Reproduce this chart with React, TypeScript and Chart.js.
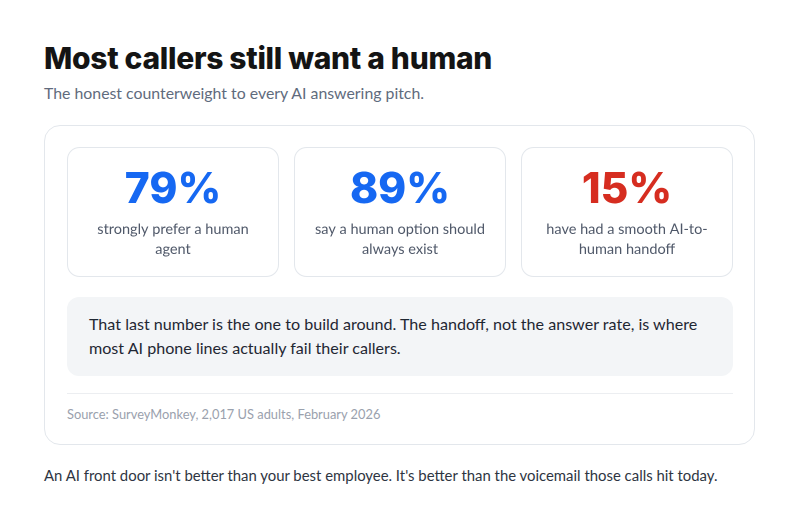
import React, { useEffect, useRef } from "react";
import { Chart, registerables } from "chart.js";

Chart.register(...registerables);

const TITLE = "Most callers still want a human";
const SUBTITLE = "The honest counterweight to every AI answering pitch.";
const STAT_KEYS = ["prefer_human", "human_option", "smooth_handoff"];
const STAT_VALUES = [79, 89, 15];
const STAT_LABELS = [
  ["strongly prefer a human", "agent"],
  ["say a human option should", "always exist"],
  ["have had a smooth AI-to-", "human handoff"],
];
const STAT_COLORS = ["#1668f2", "#1668f2", "#d62d20"];
const NOTE = [
  "That last number is the one to build around. The handoff, not the answer rate, is where",
  "most AI phone lines actually fail their callers.",
];
const SOURCE = "Source: SurveyMonkey, 2,017 US adults, February 2026";
const FOOTER =
  "An AI front door isn't better than your best employee. It's better than the voicemail those calls hit today.";

const CARD_W = 212;

function roundRect(ctx: CanvasRenderingContext2D, x: number, y: number, w: number, h: number, r: number) {
  ctx.beginPath();
  ctx.moveTo(x + r, y);
  ctx.lineTo(x + w - r, y);
  ctx.arcTo(x + w, y, x + w, y + r, r);
  ctx.lineTo(x + w, y + h - r);
  ctx.arcTo(x + w, y + h, x + w - r, y + h, r);
  ctx.lineTo(x + r, y + h);
  ctx.arcTo(x, y + h, x, y + h - r, r);
  ctx.lineTo(x, y + r);
  ctx.arcTo(x, y, x + r, y, r);
  ctx.closePath();
}

const cardsPlugin = {
  id: "statCards",
  afterDatasetsDraw(chart: any) {
    const ctx: CanvasRenderingContext2D = chart.ctx;
    const xs = chart.scales.x;
    const h = chart.height;
    const ds = chart.data.datasets[0];
    ds.data.forEach((v: number, i: number) => {
      const cx = xs.getPixelForValue(i);
      const x = cx - CARD_W / 2;
      ctx.save();
      roundRect(ctx, x + 0.5, 0.5, CARD_W - 1, h - 1, 12);
      ctx.fillStyle = "#ffffff";
      ctx.fill();
      ctx.strokeStyle = "#e3e7ec";
      ctx.lineWidth = 1;
      ctx.stroke();
      ctx.fillStyle = STAT_COLORS[i];
      ctx.textAlign = "center";
      ctx.textBaseline = "alphabetic";
      ctx.font = "800 42.5px Inter";
      ctx.fillText(v + "%", cx, 56);
      ctx.fillStyle = "#4f5869";
      ctx.font = "400 14.5px Lato";
      STAT_LABELS[i].forEach((line, j) => {
        ctx.fillText(line, cx, 87 + j * 20);
      });
      ctx.restore();
    });
  },
};

function StatCards() {
  const ref = useRef<HTMLCanvasElement>(null);
  useEffect(() => {
    if (!ref.current) return;
    const chart = new Chart(ref.current, {
      type: "line",
      data: {
        labels: STAT_KEYS,
        datasets: [{ data: STAT_VALUES, showLine: false, pointRadius: 0, pointHoverRadius: 0 }],
      },
      options: {
        animation: false,
        responsive: false,
        devicePixelRatio: 2,
        events: [],
        layout: { padding: { left: CARD_W / 2, right: CARD_W / 2, top: 0, bottom: 0 } },
        plugins: { legend: { display: false }, tooltip: { enabled: false }, title: { display: false } },
        scales: {
          x: { type: "category", offset: false, display: false },
          y: { display: false, min: 0, max: 100 },
        },
      },
      plugins: [cardsPlugin],
    });
    return () => chart.destroy();
  }, []);
  return <canvas ref={ref} width={666} height={130} style={{ width: 666, height: 130, display: "block" }} />;
}

export default function App() {
  return (
    <div
      style={{
        position: "absolute",
        left: 0,
        top: 0,
        width: 800,
        height: 528,
        background: "#ffffff",
        fontFamily: "Lato, 'Noto Sans', sans-serif",
        overflow: "hidden",
      }}
    >
      <div
        style={{
          position: "absolute",
          left: 44,
          top: 42,
          fontFamily: "Inter, sans-serif",
          fontWeight: 800,
          fontSize: 30,
          lineHeight: "32px",
          letterSpacing: "-0.3px",
          color: "#141414",
          whiteSpace: "nowrap",
        }}
      >
        {TITLE}
      </div>
      <div
        style={{
          position: "absolute",
          left: 44,
          top: 82,
          fontSize: 15.85,
          lineHeight: "22px",
          color: "#5f6b7d",
          whiteSpace: "nowrap",
        }}
      >
        {SUBTITLE}
      </div>
      <div
        style={{
          position: "absolute",
          left: 44,
          top: 125,
          width: 711,
          height: 320,
          boxSizing: "border-box",
          border: "1px solid #e3e7ec",
          borderRadius: 16,
          background: "#ffffff",
        }}
      />
      <div style={{ position: "absolute", left: 67, top: 147 }}>
        <StatCards />
      </div>
      <div
        style={{
          position: "absolute",
          left: 67,
          top: 297,
          width: 666,
          height: 79,
          boxSizing: "border-box",
          borderRadius: 12,
          background: "#f3f5f7",
          padding: "15px 22px",
          fontSize: 16.1,
          lineHeight: "23.5px",
          color: "#1f2733",
          whiteSpace: "nowrap",
        }}
      >
        <div>{NOTE[0]}</div>
        <div>{NOTE[1]}</div>
      </div>
      <div
        style={{
          position: "absolute",
          left: 67,
          top: 393,
          width: 666,
          height: 1,
          background: "#eceef1",
        }}
      />
      <div
        style={{
          position: "absolute",
          left: 67,
          top: 405,
          fontSize: 12.85,
          lineHeight: "18px",
          color: "#9aa1ad",
          whiteSpace: "nowrap",
        }}
      >
        {SOURCE}
      </div>
      <div
        style={{
          position: "absolute",
          left: 44,
          top: 465,
          fontSize: 14.9,
          lineHeight: "20px",
          color: "#2e3542",
          whiteSpace: "nowrap",
        }}
      >
        {FOOTER}
      </div>
    </div>
  );
}
